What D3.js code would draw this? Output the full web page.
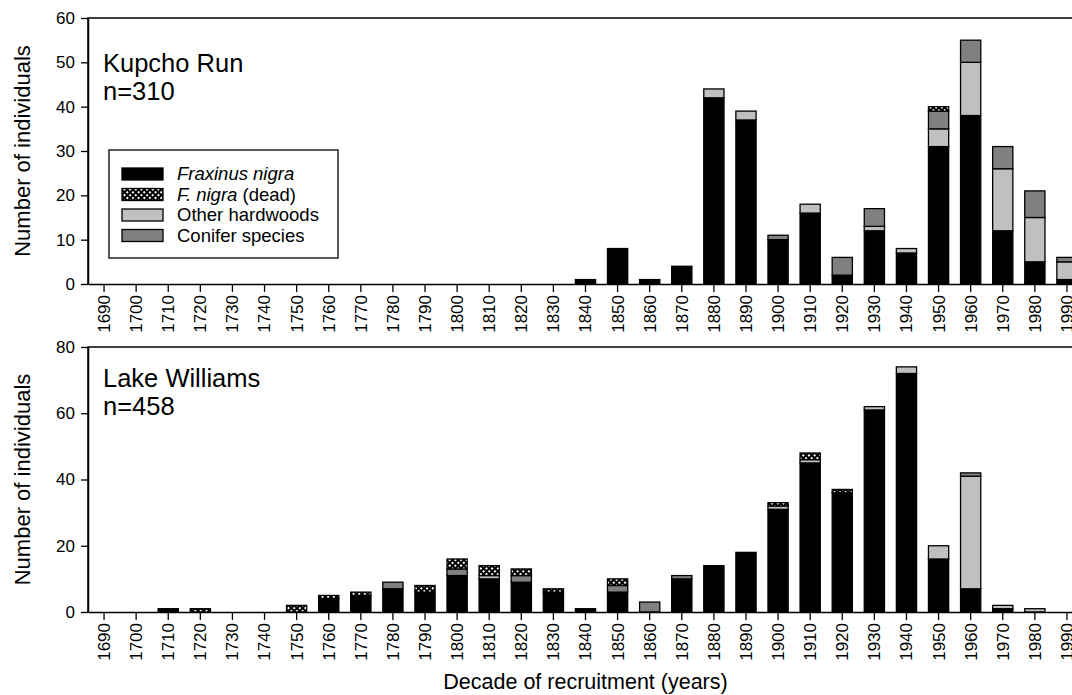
<!DOCTYPE html>
<html><head><meta charset="utf-8">
<script src="https://cdn.jsdelivr.net/npm/d3@7"></script>
<style>
body{margin:0;background:#fff;}
svg{display:block;font-family:"Liberation Sans",Arial,sans-serif;}
</style></head>
<body><svg id="c" width="1072" height="695"></svg>
<script>
const decades = [1690,1700,1710,1720,1730,1740,1750,1760,1770,1780,1790,1800,1810,1820,1830,1840,1850,1860,1870,1880,1890,1900,1910,1920,1930,1940,1950,1960,1970,1980,1990];

// Kupcho Run
const kupchoFraxinus = [0,0,0,0,0,0,0,0,0,0,0,0,0,0,0,1,8,1,4,42,37,10,16,2,12,7,31,38,12,5,1];
const kupchoDead     = [0,0,0,0,0,0,0,0,0,0,0,0,0,0,0,0,0,0,0,0,0,0,0,0,0,0,1,0,0,0,0];
const kupchoOther    = [0,0,0,0,0,0,0,0,0,0,0,0,0,0,0,0,0,0,0,2,2,0,2,0,1,1,4,12,14,10,4];
const kupchoConifer  = [0,0,0,0,0,0,0,0,0,0,0,0,0,0,0,0,0,0,0,0,0,1,0,4,4,0,4,5,5,6,1];

// Lake Williams
const lakeFraxinus = [0,0,1,0,0,0,0,4,5,7,6,11,10,9,6,1,6,0,10,14,18,31,45,36,61,72,16,7,1,0,0];
const lakeDead     = [0,0,0,1,0,0,2,1,1,0,2,3,3,2,1,0,2,0,0,0,0,1,2,1,0,0,0,0,0,0,0];
const lakeOther    = [0,0,0,0,0,0,0,0,0,0,0,0,1,0,0,0,0,0,0,0,0,1,1,0,1,2,4,34,1,1,0];
const lakeConifer  = [0,0,0,0,0,0,0,0,0,2,0,2,0,2,0,0,2,3,1,0,0,0,0,0,0,0,0,1,0,0,0];

const seriesNames = ["Fraxinus nigra","Other hardwoods","Conifer species","F. nigra (dead)"];
const kupchoYTicks = [0,10,20,30,40,50,60];
const lakeYTicks = [0,20,40,60,80];

const svg = d3.select("#c");
const defs = svg.append("defs");
const pat = defs.append("pattern").attr("id","dead").attr("patternUnits","userSpaceOnUse")
  .attr("width",4).attr("height",4).attr("patternTransform","rotate(45)");
pat.append("rect").attr("width",4).attr("height",4).attr("fill","#000");
pat.append("rect").attr("x",1).attr("y",1).attr("width",2).attr("height",2).attr("fill","#fff");

const fills = {"Fraxinus nigra":"#000","Other hardwoods":"#c0c0c0","Conifer species":"#808080","F. nigra (dead)":"url(#dead)"};

const left = 88, right = 1083;
const x = d3.scaleBand().domain(decades).range([left,right]).paddingInner(0.37).paddingOuter(0.185);

function panel(top, bottom, maxY, yTicks, fr, ot, co, de, label, nText, labelY) {
  const y = d3.scaleLinear().domain([0,maxY]).range([bottom, top]);
  const g = svg.append("g");
  const rows = decades.map((d,i)=>({decade:d,"Fraxinus nigra":fr[i],"Other hardwoods":ot[i],"Conifer species":co[i],"F. nigra (dead)":de[i]}));
  const stack = d3.stack().keys(seriesNames)(rows);
  stack.forEach(s=>{
    g.append("g").selectAll("rect").data(s.filter(d=>d[1]-d[0]>0)).join("rect")
      .attr("x",d=>x(d.data.decade)).attr("width",x.bandwidth())
      .attr("y",d=>y(d[1])).attr("height",d=>y(d[0])-y(d[1]))
      .attr("fill",fills[s.key]).attr("stroke","#000").attr("stroke-width",1.3);
  });
  g.append("path").attr("d",`M${left},${bottom}V${top}H${right}V${bottom}`).attr("fill","none").attr("stroke","#000").attr("stroke-width",1.5);
  const ya = g.append("g").attr("transform",`translate(${left},0)`)
    .call(d3.axisLeft(y).tickValues(yTicks).tickSize(7).tickSizeOuter(0).tickPadding(6));
  ya.select(".domain").attr("stroke-width",1.5);
  ya.selectAll(".tick line").attr("stroke-width",1.3);
  ya.selectAll("text").attr("font-size",17).attr("font-family","Liberation Sans, Arial, sans-serif").attr("fill","#000");
  const xa = g.append("g").attr("transform",`translate(0,${bottom})`)
    .call(d3.axisBottom(x).tickSize(8).tickSizeOuter(0));
  xa.select(".domain").attr("stroke-width",1.5);
  xa.selectAll(".tick line").attr("stroke-width",1.3);
  xa.selectAll("text").attr("font-size",17).attr("font-family","Liberation Sans, Arial, sans-serif").attr("fill","#000")
    .attr("transform","rotate(-90)").attr("text-anchor","end").attr("x",-11).attr("y",0).attr("dy","0.35em");
  svg.append("text").attr("transform",`translate(30,${(top+bottom)/2}) rotate(-90)`)
    .attr("text-anchor","middle").attr("font-size",22).text("Number of individuals");
  svg.append("text").attr("x",103).attr("y",labelY).attr("font-size",25.5).text(label);
  svg.append("text").attr("x",103).attr("y",labelY+28).attr("font-size",25.5).text(nText);
}

panel(18, 284, 60, kupchoYTicks, kupchoFraxinus, kupchoOther, kupchoConifer, kupchoDead, "Kupcho Run", "n=310", 72);
panel(347, 612, 80, lakeYTicks, lakeFraxinus, lakeOther, lakeConifer, lakeDead, "Lake Williams", "n=458", 387);

svg.append("text").attr("x",(left+right)/2).attr("y",689).attr("text-anchor","middle").attr("font-size",21.5).text("Decade of recruitment (years)");

const lg = svg.append("g");
lg.append("rect").attr("x",109).attr("y",150).attr("width",229).attr("height",108).attr("fill","#fff").attr("stroke","#000").attr("stroke-width",1.3);
const legendOrder = ["Fraxinus nigra","F. nigra (dead)","Other hardwoods","Conifer species"];
legendOrder.forEach((k,i)=>{
  const cy = 174 + i*20.5;
  lg.append("rect").attr("x",122).attr("y",cy-6).attr("width",41).attr("height",12).attr("fill",fills[k]).attr("stroke","#000").attr("stroke-width",1.3);
  const t = lg.append("text").attr("x",177).attr("y",cy).attr("dy","0.35em").attr("font-size",18.5);
  if (k==="Fraxinus nigra") t.append("tspan").attr("font-style","italic").text("Fraxinus nigra");
  else if (k==="F. nigra (dead)") { t.append("tspan").attr("font-style","italic").text("F. nigra"); t.append("tspan").text(" (dead)"); }
  else t.text(k);
});
</script></body></html>
